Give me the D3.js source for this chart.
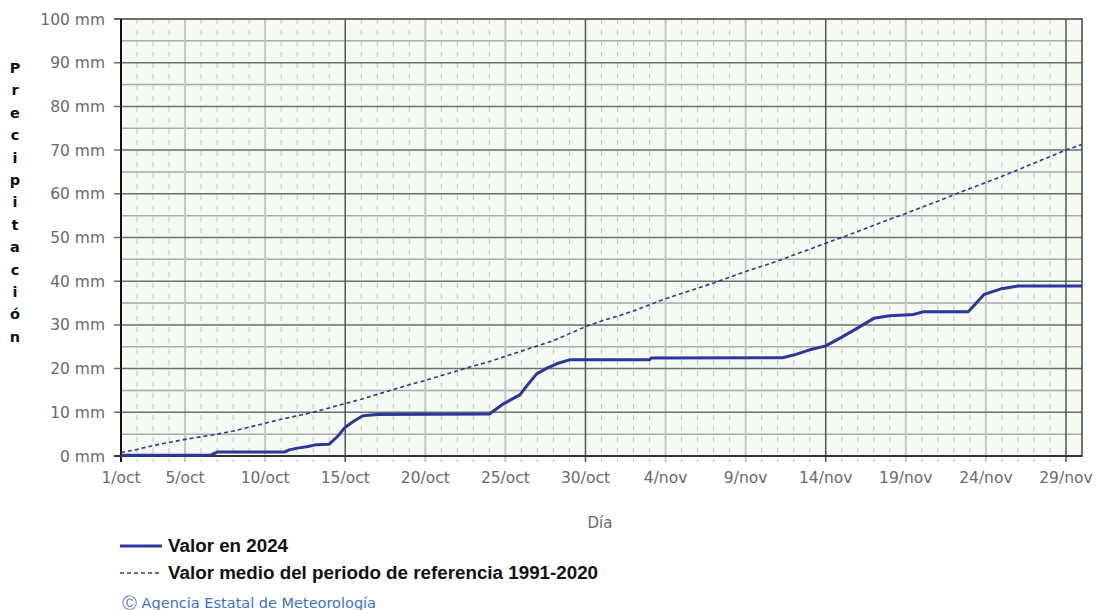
<!DOCTYPE html>
<html>
<head>
<meta charset="utf-8">
<script src="https://cdn.jsdelivr.net/npm/d3@7"></script>
<style>
  body { margin: 0; background: #fff; }
  svg { display: block; }
  text { font-family: "DejaVu Sans", sans-serif; }
</style>
</head>
<body>
<div id="chart"></div>
<script>
// día 0 = 1/oct ... día 60 = 30/nov
const days2024 = [0, 5.6, 6.0, 10.2, 10.5, 11, 11.6, 12.2, 13, 13.5, 14, 14.5, 15.1, 16, 23, 23.9, 24.9, 25.3, 25.95, 26.6, 27.2, 28, 33, 33.1, 41.3, 42, 43, 44, 45, 45.9, 47, 48, 49.5, 50.1, 52.9, 53.9, 54.9, 56, 60];
const values2024 = [0.2, 0.2, 0.9, 0.9, 1.4, 1.8, 2.1, 2.6, 2.7, 4.4, 6.6, 7.9, 9.2, 9.5, 9.6, 12, 14, 15.9, 18.8, 20.1, 21.1, 22.0, 22.0, 22.4, 22.5, 23.1, 24.3, 25.2, 27.2, 29.1, 31.5, 32.1, 32.4, 33.0, 33.0, 37.0, 38.2, 38.9, 38.9];

const daysNormal = d3.range(0, 61);
const valuesNormal = [0.8, 1.5, 2.4, 3.1, 3.8, 4.4, 5.0, 5.7, 6.6, 7.5, 8.4, 9.2, 10.0, 11.0, 12.0, 13.0, 14.1, 15.2, 16.3, 17.3,
  18.4, 19.5, 20.6, 21.6, 22.8, 24.0, 25.2, 26.4, 28.0, 29.6, 30.9, 32.0, 33.2, 34.6, 36.0, 37.2, 38.4, 39.6, 40.9, 42.2,
  43.4, 44.6, 46.0, 47.3, 48.7, 50.0, 51.4, 52.8, 54.2, 55.5, 56.9, 58.3, 59.8, 61.2, 62.6, 64.0, 65.5, 67.0, 68.5, 70.0, 71.3];

const tickDays = [0, 4, 9, 14, 19, 24, 29, 34, 39, 44, 49, 54, 59];
const tickLabels = ["1/oct", "5/oct", "10/oct", "15/oct", "20/oct", "25/oct", "30/oct", "4/nov", "9/nov", "14/nov", "19/nov", "24/nov", "29/nov"];
const majorDays = [14, 29, 44, 59];
const yTicks = [0, 10, 20, 30, 40, 50, 60, 70, 80, 90, 100];
const yTitle = "Precipitación";
const legendLabels = ["Valor en 2024", "Valor medio del periodo de referencia 1991-2020"];

const width = 1097, height = 610;
const margin = { left: 121, top: 19, right: 15, bottom: 154 };
const lineColor = "#2b379a";

const svg = d3.select("#chart").append("svg")
  .attr("width", width)
  .attr("height", height);

const x = d3.scaleLinear().domain([0, 60]).range([margin.left, width - margin.right]);
const y = d3.scaleLinear().domain([0, 100]).range([height - margin.bottom, margin.top]);

// fondo
svg.append("rect")
  .attr("x", x(0)).attr("y", y(100))
  .attr("width", x(60) - x(0)).attr("height", y(0) - y(100))
  .attr("fill", "#f5faf2");

// líneas diarias discontinuas
svg.append("g").selectAll("line")
  .data(d3.range(1, 60).filter(d => !tickDays.includes(d)))
  .join("line")
  .attr("x1", d => x(d)).attr("x2", d => x(d))
  .attr("y1", y(100)).attr("y2", y(0) + 6)
  .attr("stroke", "#c4c4c4")
  .attr("stroke-width", 1)
  .attr("stroke-dasharray", "5,6");

// líneas horizontales de 5 mm
svg.append("g").selectAll("line")
  .data(d3.range(5, 100, 10))
  .join("line")
  .attr("x1", x(0)).attr("x2", x(60))
  .attr("y1", d => y(d)).attr("y2", d => y(d))
  .attr("stroke", "#a9a9a9")
  .attr("stroke-width", 1.5);

// líneas verticales cada 5 días
svg.append("g").selectAll("line")
  .data(tickDays.filter(d => d > 0 && !majorDays.includes(d)))
  .join("line")
  .attr("x1", d => x(d)).attr("x2", d => x(d))
  .attr("y1", y(100)).attr("y2", y(0) + 6)
  .attr("stroke", "#c6c6c6")
  .attr("stroke-width", 2);

// líneas horizontales de 10 mm
svg.append("g").selectAll("line")
  .data(yTicks.filter(d => d > 0 && d < 100))
  .join("line")
  .attr("x1", x(0) - 7).attr("x2", x(60))
  .attr("y1", d => y(d)).attr("y2", d => y(d))
  .attr("stroke", "#6e6e6e")
  .attr("stroke-width", 1.5);

// líneas verticales cada 15 días
svg.append("g").selectAll("line")
  .data(majorDays)
  .join("line")
  .attr("x1", d => x(d)).attr("x2", d => x(d))
  .attr("y1", y(100)).attr("y2", y(0) + 6)
  .attr("stroke", "#555")
  .attr("stroke-width", 1.5);

// marco
svg.append("rect")
  .attr("x", x(0)).attr("y", y(100))
  .attr("width", x(60) - x(0)).attr("height", y(0) - y(100))
  .attr("fill", "none")
  .attr("stroke", "#444")
  .attr("stroke-width", 1.5);
svg.append("line")
  .attr("x1", x(0)).attr("x2", x(0)).attr("y1", y(100)).attr("y2", y(0) + 6)
  .attr("stroke", "#111").attr("stroke-width", 2);
svg.append("line")
  .attr("x1", x(0) - 7).attr("x2", x(60)).attr("y1", y(0)).attr("y2", y(0))
  .attr("stroke", "#333").attr("stroke-width", 2);
svg.append("line")
  .attr("x1", x(0) - 7).attr("x2", x(0)).attr("y1", y(100)).attr("y2", y(100))
  .attr("stroke", "#333").attr("stroke-width", 1.5);

// etiquetas eje y
svg.append("g").selectAll("text")
  .data(yTicks)
  .join("text")
  .attr("x", x(0) - 16)
  .attr("y", d => y(d) + 5.5)
  .attr("text-anchor", "end")
  .attr("fill", "#6a6a6a")
  .style("font-size", "15.5px")
  .text(d => d + " mm");

// etiquetas eje x
svg.append("g").selectAll("text")
  .data(tickDays)
  .join("text")
  .attr("x", d => x(d))
  .attr("y", y(0) + 27)
  .attr("text-anchor", "middle")
  .attr("fill", "#6a6a6a")
  .style("font-size", "15.5px")
  .text((d, i) => tickLabels[i]);

// título eje x
svg.append("text")
  .attr("x", 600).attr("y", 528)
  .attr("text-anchor", "middle")
  .attr("fill", "#6a6a6a")
  .style("font-size", "15px")
  .text("Día");

// título eje y, letra a letra
svg.append("g").selectAll("text")
  .data(yTitle.split(""))
  .join("text")
  .attr("x", 15)
  .attr("y", (d, i) => 73 + i * 22.4)
  .attr("text-anchor", "middle")
  .attr("fill", "#111")
  .style("font-size", "14.5px")
  .style("font-weight", "bold")
  .text(d => d);

// serie normal
const line = d3.line().x(d => x(d[0])).y(d => y(d[1]));
svg.append("path")
  .datum(daysNormal.map((d, i) => [d, valuesNormal[i]]))
  .attr("fill", "none")
  .attr("stroke", lineColor)
  .attr("stroke-width", 1.6)
  .attr("stroke-dasharray", "4,3")
  .attr("d", line);

// serie 2024
svg.append("path")
  .datum(days2024.map((d, i) => [d, values2024[i]]))
  .attr("fill", "none")
  .attr("stroke", lineColor)
  .attr("stroke-width", 3)
  .attr("stroke-linejoin", "round")
  .attr("d", line);

// leyenda
const legend = svg.append("g");
legendLabels.forEach((lab, i) => {
  const ly = 546 + i * 27;
  legend.append("line")
    .attr("x1", 120).attr("x2", 162).attr("y1", ly).attr("y2", ly)
    .attr("stroke", lineColor)
    .attr("stroke-width", i === 0 ? 3 : 1.3)
    .attr("stroke-dasharray", i === 0 ? null : "4,3");
  legend.append("text")
    .attr("x", 168).attr("y", ly + 6)
    .attr("fill", "#111")
    .style("font-family", "'Liberation Sans', sans-serif")
    .style("font-size", "18.8px")
    .style("font-weight", "bold")
    .text(lab);
});

svg.append("text")
  .attr("x", 122).attr("y", 608)
  .attr("fill", "#3b6fd1")
  .style("font-size", "14.5px")
  .text("Ⓒ Agencia Estatal de Meteorología");
</script>
</body>
</html>
